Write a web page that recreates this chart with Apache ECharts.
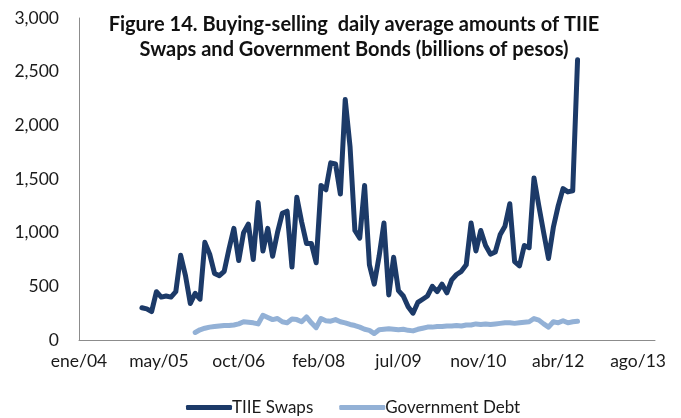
<!DOCTYPE html>
<html>
<head>
<meta charset="utf-8">
<script src="https://cdn.jsdelivr.net/npm/echarts@6/dist/echarts.min.js"></script>
<style>
  html, body { margin: 0; padding: 0; background: #ffffff; }
  #chart { width: 681px; height: 418px; }
</style>
</head>
<body>
<div id="chart"></div>
<script>
// Month index counted from January 2004 (0 = ene/04)
const tickLabels = ['ene/04', 'may/05', 'oct/06', 'feb/08', 'jul/09', 'nov/10', 'abr/12', 'ago/13'];

// TIIE Swaps, monthly from feb/05
const swapsStart = 13;
const swapsValues = [
  300, 290, 265, 450, 400, 410, 400, 450, 790, 600, 340, 435,
  380, 910, 800, 620, 600, 640, 850, 1040, 740, 1000, 1080, 750,
  1280, 830, 1040, 780, 1000, 1180, 1200, 680, 1330, 1100, 900, 900,
  720, 1440, 1400, 1650, 1640, 1360, 2240, 1800, 1020, 950, 1440, 700,
  520, 780, 1090, 420, 770, 460, 410, 310, 250, 350, 380, 410,
  500, 450, 520, 440, 560, 610, 640, 700, 1090, 830, 1020, 880,
  800, 820, 980, 1060, 1270, 730, 690, 880, 860, 1510, 1250, 1000,
  760, 1050, 1250, 1410, 1380, 1390, 2610
];

// Government Debt, monthly from ene/06
const debtStart = 24;
const debtValues = [
  70, 95, 110, 120, 125, 130, 135, 135, 140, 150, 170, 165,
  160, 150, 230, 210, 190, 200, 170, 160, 195, 190, 170, 215,
  160, 115, 200, 180, 175, 190, 170, 160, 145, 135, 120, 100,
  90, 60, 95, 100, 105, 100, 95, 100, 90, 85, 100, 110,
  120, 120, 125, 125, 130, 130, 135, 130, 140, 140, 150, 145,
  150, 145, 150, 155, 160, 160, 155, 160, 165, 170, 200, 185,
  150, 120, 170, 160, 180, 160, 170, 175
];

const toPairs = (start, values) => values.map((v, i) => [start + i, v]);

const TICK_STEP = 16.5;
const FONT = 'Lato, "Liberation Sans", sans-serif';
const TEXT_COLOR = '#1a1a1a';

const chart = echarts.init(document.getElementById('chart'), null, { renderer: 'canvas' });

chart.setOption({
  animation: false,
  backgroundColor: '#ffffff',
  grid: { left: 79, right: 26, top: 18, bottom: 78, containLabel: false },
  xAxis: {
    type: 'value',
    min: 0,
    max: 119,
    interval: TICK_STEP,
    splitLine: { show: false },
    axisTick: { show: false },
    axisLine: { show: true, onZero: false, lineStyle: { color: '#8c8c8c', width: 1 } },
    axisLabel: {
      show: true,
      margin: 12,
      color: TEXT_COLOR,
      fontSize: 17.5,
      fontFamily: FONT,
      showMaxLabel: false,
      formatter: (v) => {
        const k = Math.round(v / TICK_STEP);
        if (Math.abs(k * TICK_STEP - v) > 1e-6 || k >= tickLabels.length) return '';
        return tickLabels[k];
      }
    }
  },
  yAxis: {
    type: 'value',
    min: 0,
    max: 3000,
    interval: 500,
    splitLine: { show: false },
    axisTick: { show: false },
    axisLine: { show: true, lineStyle: { color: '#8c8c8c', width: 1 } },
    axisLabel: {
      margin: 20,
      color: TEXT_COLOR,
      fontSize: 17.5,
      fontFamily: FONT,
      formatter: (v) => v.toLocaleString('en-US')
    }
  },
  legend: {
    left: 181,
    top: 394,
    itemWidth: 46,
    itemHeight: 5,
    itemGap: 26,
    icon: 'roundRect',
    textStyle: { fontSize: 17, fontFamily: FONT, color: TEXT_COLOR, padding: [0, 0, 0, -5] },
    data: ['TIIE Swaps', 'Government Debt']
  },
  graphic: [{
    type: 'text',
    x: 354,
    y: 12,
    style: {
      text: 'Figure 14. Buying-selling  daily average amounts of TIIE\nSwaps and Government Bonds (billions of pesos)',
      align: 'center',
      font: 'bold 20px ' + FONT,
      lineHeight: 25,
      fill: '#111111'
    }
  }],
  series: [
    {
      name: 'TIIE Swaps',
      type: 'line',
      data: toPairs(swapsStart, swapsValues),
      showSymbol: false,
      lineStyle: { color: '#1c3a68', width: 5, cap: 'round', join: 'round' },
      itemStyle: { color: '#1c3a68' },
      z: 3
    },
    {
      name: 'Government Debt',
      type: 'line',
      data: toPairs(debtStart, debtValues),
      showSymbol: false,
      lineStyle: { color: '#93b1d6', width: 5, cap: 'round', join: 'round' },
      itemStyle: { color: '#93b1d6' },
      z: 2
    }
  ]
});
</script>
</body>
</html>
